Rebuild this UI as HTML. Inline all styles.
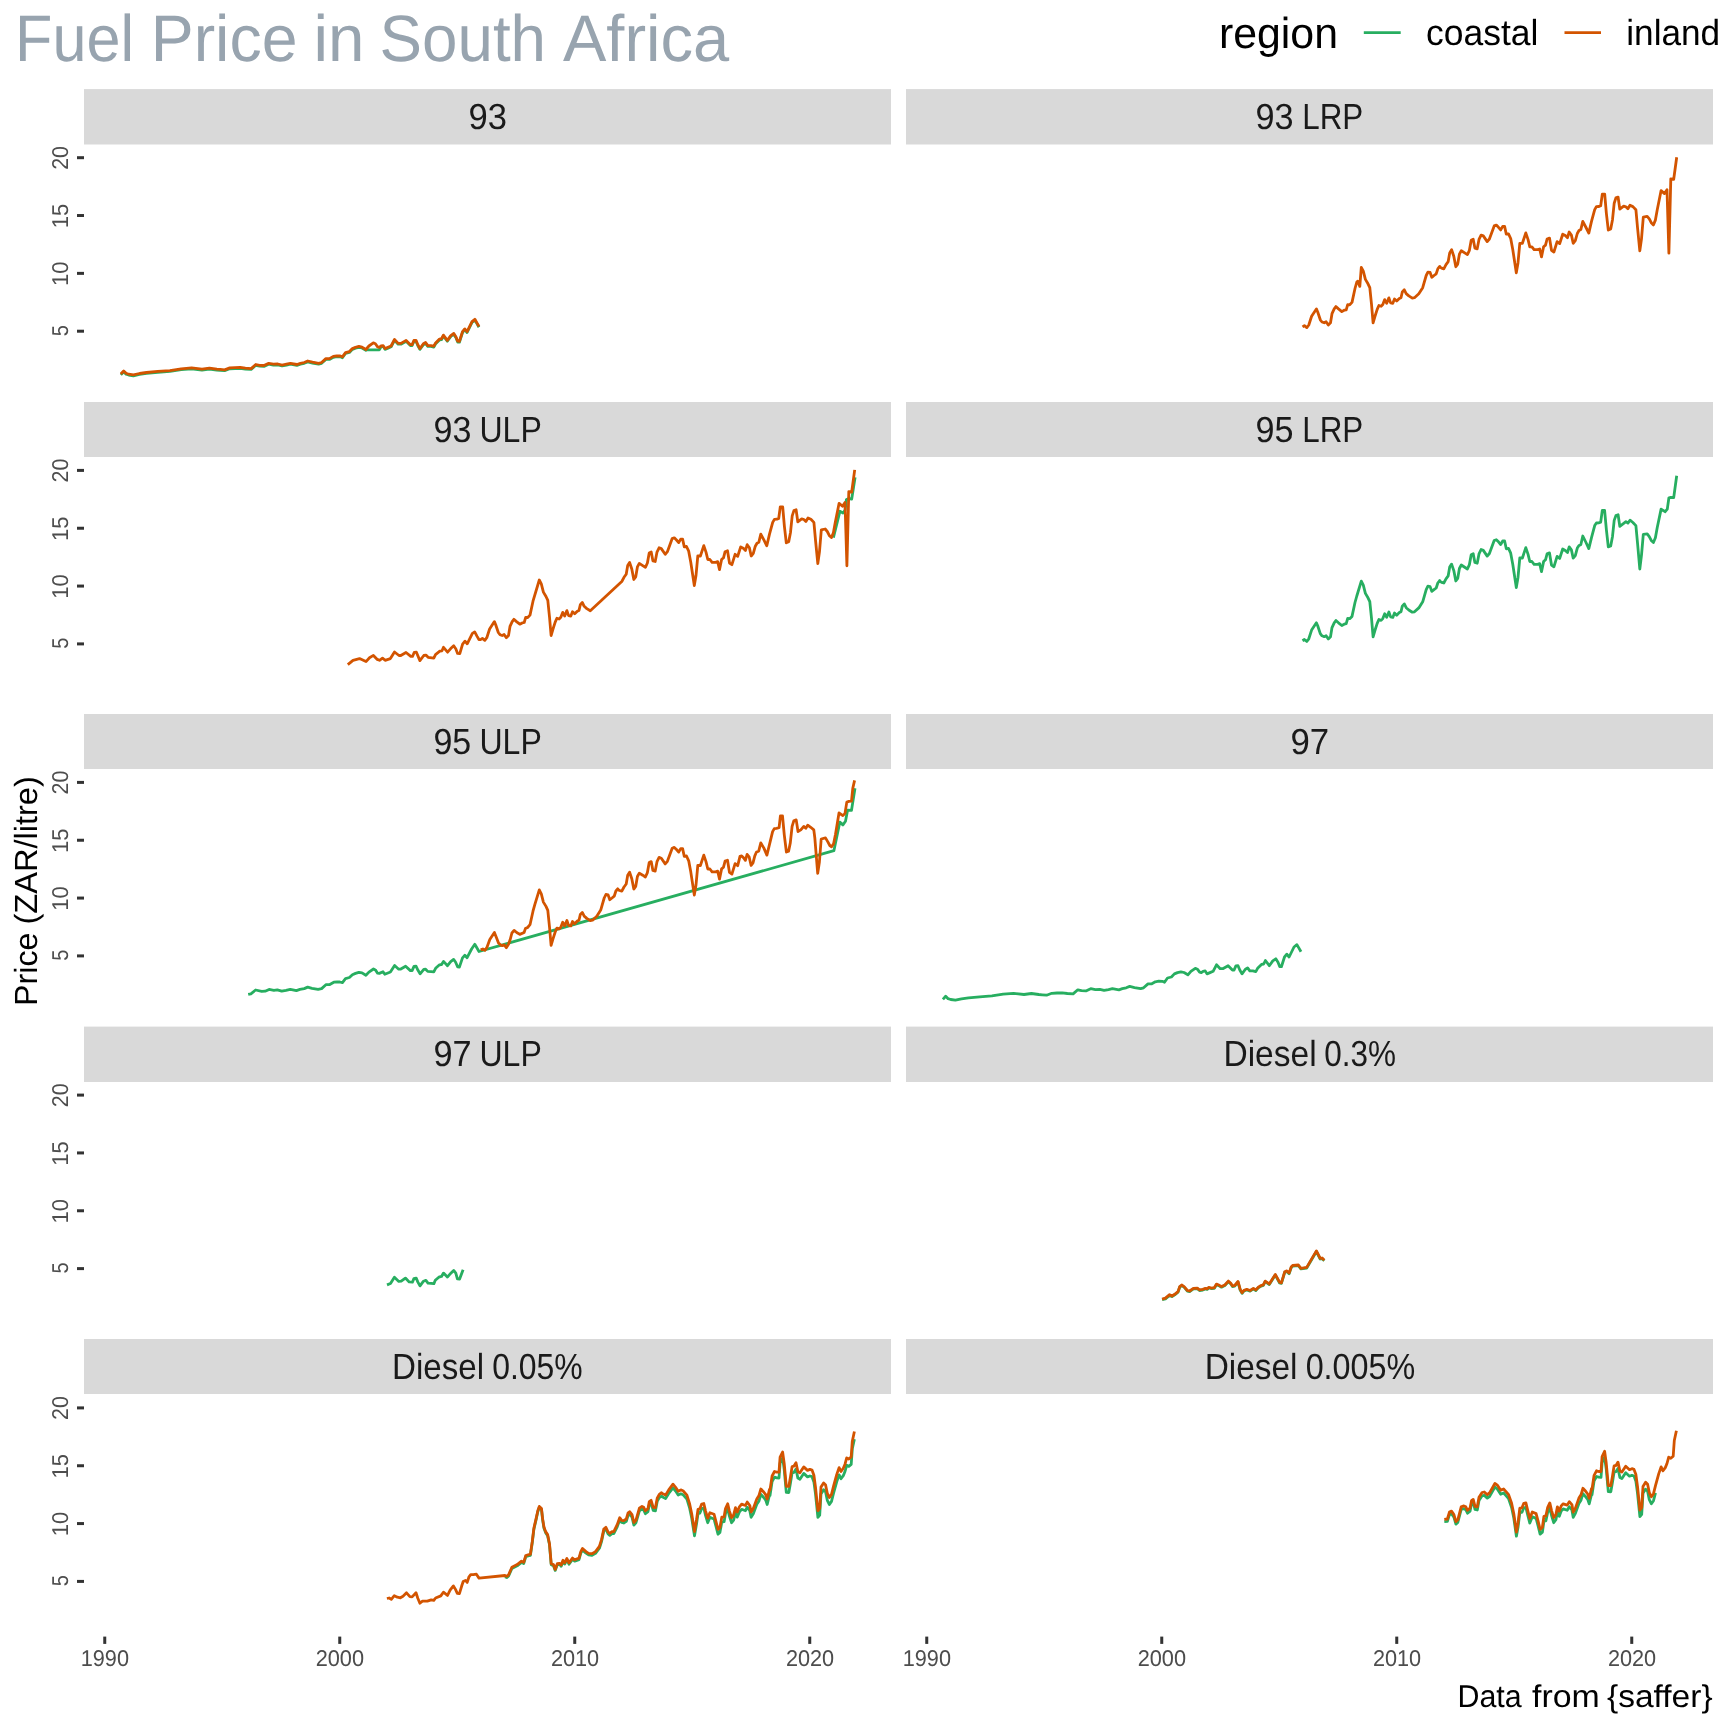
<!DOCTYPE html>
<html><head><meta charset="utf-8"><title>Fuel Price in South Africa</title>
<style>html,body{margin:0;padding:0;background:#fff}svg{display:block;will-change:transform}text{-webkit-font-smoothing:antialiased}</style></head>
<body>
<svg width="1728" height="1728" viewBox="0 0 1728 1728" font-family='"Liberation Sans", Arial, sans-serif' text-rendering="geometricPrecision">
<rect width="1728" height="1728" fill="#fff"/>
<g id="title" fill="#98A4AF" font-size="65.7">
<text x="15.09" y="60.70" textLength="118.90" lengthAdjust="spacingAndGlyphs">Fuel</text>
<text x="150.72" y="60.70" textLength="146.75" lengthAdjust="spacingAndGlyphs">Price</text>
<text x="313.42" y="60.70" textLength="50.93" lengthAdjust="spacingAndGlyphs">in</text>
<text x="379.51" y="60.70" textLength="166.53" lengthAdjust="spacingAndGlyphs">South</text>
<text x="562.97" y="60.70" textLength="166.33" lengthAdjust="spacingAndGlyphs">Africa</text>
</g>
<g id="legend" fill="#000">
<text x="1218.91" y="47.75" textLength="119.08" lengthAdjust="spacingAndGlyphs" font-size="43.4">region</text>
<line x1="1363.8" x2="1400.7" y1="32.65" y2="32.65" stroke="#27AE60" stroke-width="2.75"/>
<text x="1425.94" y="44.70" textLength="112.43" lengthAdjust="spacingAndGlyphs" font-size="36.2">coastal</text>
<line x1="1564.5" x2="1601" y1="32.65" y2="32.65" stroke="#D35400" stroke-width="2.75"/>
<text x="1626.25" y="44.70" textLength="93.92" lengthAdjust="spacingAndGlyphs" font-size="36.2">inland</text>
</g>
<g id="strips">
<rect x="84.0" y="89.10" width="807.0" height="55.40" fill="#D9D9D9"/>
<rect x="906.0" y="89.10" width="807.0" height="55.40" fill="#D9D9D9"/>
<rect x="84.0" y="402.00" width="807.0" height="55.00" fill="#D9D9D9"/>
<rect x="906.0" y="402.00" width="807.0" height="55.00" fill="#D9D9D9"/>
<rect x="84.0" y="714.00" width="807.0" height="55.00" fill="#D9D9D9"/>
<rect x="906.0" y="714.00" width="807.0" height="55.00" fill="#D9D9D9"/>
<rect x="84.0" y="1026.60" width="807.0" height="55.40" fill="#D9D9D9"/>
<rect x="906.0" y="1026.60" width="807.0" height="55.40" fill="#D9D9D9"/>
<rect x="84.0" y="1339.00" width="807.0" height="55.00" fill="#D9D9D9"/>
<rect x="906.0" y="1339.00" width="807.0" height="55.00" fill="#D9D9D9"/>
</g>
<g id="striptext" fill="#1A1A1A" font-size="36.2">
<text x="468.43" y="128.70" textLength="38.44" lengthAdjust="spacingAndGlyphs">93</text>
<text x="1255.49" y="128.70" textLength="38.11" lengthAdjust="spacingAndGlyphs">93</text>
<text x="1302.23" y="128.70" textLength="61.03" lengthAdjust="spacingAndGlyphs">LRP</text>
<text x="433.45" y="441.60" textLength="37.89" lengthAdjust="spacingAndGlyphs">93</text>
<text x="479.48" y="441.60" textLength="62.36" lengthAdjust="spacingAndGlyphs">ULP</text>
<text x="1255.50" y="441.60" textLength="38.04" lengthAdjust="spacingAndGlyphs">95</text>
<text x="1302.23" y="441.60" textLength="61.03" lengthAdjust="spacingAndGlyphs">LRP</text>
<text x="433.46" y="753.60" textLength="37.82" lengthAdjust="spacingAndGlyphs">95</text>
<text x="479.48" y="753.60" textLength="62.36" lengthAdjust="spacingAndGlyphs">ULP</text>
<text x="1290.42" y="753.60" textLength="38.68" lengthAdjust="spacingAndGlyphs">97</text>
<text x="433.44" y="1066.20" textLength="38.13" lengthAdjust="spacingAndGlyphs">97</text>
<text x="479.48" y="1066.20" textLength="62.36" lengthAdjust="spacingAndGlyphs">ULP</text>
<text x="1223.45" y="1066.20" textLength="93.19" lengthAdjust="spacingAndGlyphs">Diesel</text>
<text x="1324.27" y="1066.20" textLength="71.75" lengthAdjust="spacingAndGlyphs">0.3%</text>
<text x="391.98" y="1378.60" textLength="92.03" lengthAdjust="spacingAndGlyphs">Diesel</text>
<text x="492.25" y="1378.60" textLength="90.48" lengthAdjust="spacingAndGlyphs">0.05%</text>
<text x="1204.66" y="1378.60" textLength="92.88" lengthAdjust="spacingAndGlyphs">Diesel</text>
<text x="1305.64" y="1378.60" textLength="109.51" lengthAdjust="spacingAndGlyphs">0.005%</text>
</g>
<g id="yticks" stroke="#333" stroke-width="3">
<line x1="77" x2="84.0" y1="331.20" y2="331.20"/>
<line x1="77" x2="84.0" y1="273.37" y2="273.37"/>
<line x1="77" x2="84.0" y1="215.53" y2="215.53"/>
<line x1="77" x2="84.0" y1="157.70" y2="157.70"/>
<line x1="77" x2="84.0" y1="643.90" y2="643.90"/>
<line x1="77" x2="84.0" y1="586.07" y2="586.07"/>
<line x1="77" x2="84.0" y1="528.24" y2="528.24"/>
<line x1="77" x2="84.0" y1="470.40" y2="470.40"/>
<line x1="77" x2="84.0" y1="955.90" y2="955.90"/>
<line x1="77" x2="84.0" y1="898.07" y2="898.07"/>
<line x1="77" x2="84.0" y1="840.24" y2="840.24"/>
<line x1="77" x2="84.0" y1="782.40" y2="782.40"/>
<line x1="77" x2="84.0" y1="1268.61" y2="1268.61"/>
<line x1="77" x2="84.0" y1="1210.77" y2="1210.77"/>
<line x1="77" x2="84.0" y1="1152.93" y2="1152.93"/>
<line x1="77" x2="84.0" y1="1095.10" y2="1095.10"/>
<line x1="77" x2="84.0" y1="1581.41" y2="1581.41"/>
<line x1="77" x2="84.0" y1="1523.57" y2="1523.57"/>
<line x1="77" x2="84.0" y1="1465.74" y2="1465.74"/>
<line x1="77" x2="84.0" y1="1407.90" y2="1407.90"/>
</g>
<g id="ylabels" fill="#4D4D4D" font-size="22.9">
<text transform="translate(68.0,330.60) rotate(-90)" x="-5.55" textLength="11.14" lengthAdjust="spacingAndGlyphs">5</text>
<text transform="translate(68.0,273.47) rotate(-90)" x="-12.62" textLength="24.43" lengthAdjust="spacingAndGlyphs">10</text>
<text transform="translate(68.0,215.63) rotate(-90)" x="-12.63" textLength="24.50" lengthAdjust="spacingAndGlyphs">15</text>
<text transform="translate(68.0,157.80) rotate(-90)" x="-12.03" textLength="23.81" lengthAdjust="spacingAndGlyphs">20</text>
<text transform="translate(68.0,643.30) rotate(-90)" x="-5.55" textLength="11.14" lengthAdjust="spacingAndGlyphs">5</text>
<text transform="translate(68.0,586.17) rotate(-90)" x="-12.62" textLength="24.43" lengthAdjust="spacingAndGlyphs">10</text>
<text transform="translate(68.0,528.34) rotate(-90)" x="-12.63" textLength="24.50" lengthAdjust="spacingAndGlyphs">15</text>
<text transform="translate(68.0,470.50) rotate(-90)" x="-12.03" textLength="23.81" lengthAdjust="spacingAndGlyphs">20</text>
<text transform="translate(68.0,955.30) rotate(-90)" x="-5.55" textLength="11.14" lengthAdjust="spacingAndGlyphs">5</text>
<text transform="translate(68.0,898.17) rotate(-90)" x="-12.62" textLength="24.43" lengthAdjust="spacingAndGlyphs">10</text>
<text transform="translate(68.0,840.34) rotate(-90)" x="-12.63" textLength="24.50" lengthAdjust="spacingAndGlyphs">15</text>
<text transform="translate(68.0,782.50) rotate(-90)" x="-12.03" textLength="23.81" lengthAdjust="spacingAndGlyphs">20</text>
<text transform="translate(68.0,1268.01) rotate(-90)" x="-5.55" textLength="11.14" lengthAdjust="spacingAndGlyphs">5</text>
<text transform="translate(68.0,1210.87) rotate(-90)" x="-12.62" textLength="24.43" lengthAdjust="spacingAndGlyphs">10</text>
<text transform="translate(68.0,1153.03) rotate(-90)" x="-12.63" textLength="24.50" lengthAdjust="spacingAndGlyphs">15</text>
<text transform="translate(68.0,1095.20) rotate(-90)" x="-12.03" textLength="23.81" lengthAdjust="spacingAndGlyphs">20</text>
<text transform="translate(68.0,1580.81) rotate(-90)" x="-5.55" textLength="11.14" lengthAdjust="spacingAndGlyphs">5</text>
<text transform="translate(68.0,1523.67) rotate(-90)" x="-12.62" textLength="24.43" lengthAdjust="spacingAndGlyphs">10</text>
<text transform="translate(68.0,1465.84) rotate(-90)" x="-12.63" textLength="24.50" lengthAdjust="spacingAndGlyphs">15</text>
<text transform="translate(68.0,1408.00) rotate(-90)" x="-12.03" textLength="23.81" lengthAdjust="spacingAndGlyphs">20</text>
</g>
<g id="xticks" stroke="#333" stroke-width="3">
<line x1="104.75" x2="104.75" y1="1636.6" y2="1643.9"/>
<line x1="339.75" x2="339.75" y1="1636.6" y2="1643.9"/>
<line x1="574.75" x2="574.75" y1="1636.6" y2="1643.9"/>
<line x1="809.75" x2="809.75" y1="1636.6" y2="1643.9"/>
<line x1="926.75" x2="926.75" y1="1636.6" y2="1643.9"/>
<line x1="1161.75" x2="1161.75" y1="1636.6" y2="1643.9"/>
<line x1="1396.75" x2="1396.75" y1="1636.6" y2="1643.9"/>
<line x1="1631.75" x2="1631.75" y1="1636.6" y2="1643.9"/>
</g>
<g id="xlabels" fill="#4D4D4D" font-size="22.9">
<text x="80.70" y="1665.90" textLength="48.30" lengthAdjust="spacingAndGlyphs">1990</text>
<text x="315.71" y="1665.90" textLength="48.34" lengthAdjust="spacingAndGlyphs">2000</text>
<text x="550.91" y="1665.90" textLength="48.19" lengthAdjust="spacingAndGlyphs">2010</text>
<text x="785.91" y="1665.90" textLength="48.19" lengthAdjust="spacingAndGlyphs">2020</text>
<text x="902.70" y="1665.90" textLength="48.30" lengthAdjust="spacingAndGlyphs">1990</text>
<text x="1137.71" y="1665.90" textLength="48.34" lengthAdjust="spacingAndGlyphs">2000</text>
<text x="1372.91" y="1665.90" textLength="48.19" lengthAdjust="spacingAndGlyphs">2010</text>
<text x="1607.91" y="1665.90" textLength="48.19" lengthAdjust="spacingAndGlyphs">2020</text>
</g>
<g transform="translate(36.94,0) rotate(-90)" font-size="32" fill="#000">
<text x="-1005.95" y="0.00" textLength="73.48" lengthAdjust="spacingAndGlyphs">Price</text>
<text x="-924.62" y="0.00" textLength="148.44" lengthAdjust="spacingAndGlyphs">(ZAR/litre)</text>
</g>
<g font-size="31.5" fill="#000">
<text x="1457.51" y="1706.70" textLength="64.19" lengthAdjust="spacingAndGlyphs">Data</text>
<text x="1532.02" y="1706.70" textLength="67.71" lengthAdjust="spacingAndGlyphs">from</text>
<text x="1606.94" y="1706.70" textLength="105.66" lengthAdjust="spacingAndGlyphs">{saffer}</text>
</g>
<g id="lines">
<path d="M120.8 374.9 L123.7 371.8 L126.1 374.2 L128.7 375.0 L133.4 375.8 L139.5 374.4 L146.5 373.3 L157.7 372.3 L169.9 371.4 L181.2 369.7 L191.6 368.8 L202.0 370.0 L209.4 369.0 L216.8 370.0 L220.2 370.3 L224.6 370.7 L229.8 368.8 L235.0 368.5 L240.2 368.4 L245.4 369.0 L251.1 369.4 L255.8 365.3 L259.6 366.2 L263.9 366.4 L268.7 364.2 L273.4 365.1 L277.8 364.8 L282.1 365.9 L286.5 365.1 L290.4 364.2 L296.9 365.3 L300.4 364.2 L304.2 363.3 L307.7 361.9 L312.5 363.1 L318.6 364.2 L321.6 363.3 L325.9 359.4 L329.4 359.4 L333.3 357.3 L336.8 356.6 L340.3 356.8 L342.4 357.7 L345.5 353.5 L349.4 352.5 L352.4 349.4 L355.5 348.1 L358.9 347.3 L362.0 348.0 L365.9 350.3 L366.8 349.8 L379.3 349.8 L381.1 346.8 L383.2 346.4 L385.0 349.4 L388.0 348.1 L391.1 346.8 L394.5 340.3 L398.2 344.2 L400.9 344.2 L406.1 341.2 L410.4 345.5 L412.1 345.5 L413.9 341.4 L416.0 341.2 L417.8 345.5 L419.9 349.4 L423.4 344.7 L425.6 343.4 L427.8 346.4 L430.8 346.4 L433.8 347.1 L435.6 343.8 L439.5 339.9 L441.6 339.5 L443.4 336.0 L447.3 341.2 L450.8 336.4 L453.8 334.2 L456.0 337.7 L457.7 342.1 L459.4 342.2 L462.5 332.5 L464.8 329.7 L467.1 332.5 L472.0 322.5 L474.9 320.2 L476.8 323.4 L479.0 327.3" fill="none" stroke="#27AE60" stroke-width="2.8" stroke-linejoin="round" stroke-linecap="butt"/>
<path d="M120.8 374.0 L123.7 370.9 L126.1 373.3 L128.7 374.2 L133.4 374.9 L139.5 373.5 L146.5 372.5 L157.7 371.4 L169.9 370.6 L181.2 368.8 L191.6 367.9 L202.0 369.2 L209.4 368.1 L216.8 369.2 L220.2 369.4 L224.6 369.9 L229.8 367.9 L235.0 367.7 L240.2 367.5 L245.4 368.1 L251.1 368.6 L255.8 364.5 L259.6 365.4 L263.9 365.5 L268.7 363.4 L273.4 364.2 L277.8 364.0 L282.1 365.1 L286.5 364.2 L290.4 363.4 L296.9 364.5 L300.4 363.4 L304.2 362.5 L307.7 361.0 L312.5 362.2 L318.6 363.4 L321.6 362.5 L325.9 358.6 L329.4 358.6 L333.3 356.4 L336.8 355.8 L340.3 356.0 L342.4 356.8 L345.5 352.7 L349.4 351.6 L352.4 348.6 L355.5 347.3 L358.9 346.4 L362.0 347.1 L365.9 349.5 L368.9 346.0 L373.3 342.9 L375.4 343.8 L377.6 346.9 L379.3 347.3 L381.1 346.0 L383.2 345.6 L385.0 348.6 L388.0 347.3 L391.1 346.0 L394.5 339.5 L398.2 343.4 L400.9 343.4 L406.1 340.4 L410.4 344.7 L412.1 344.7 L413.9 340.5 L416.0 340.4 L417.8 344.7 L419.9 348.6 L423.4 343.8 L425.6 342.5 L427.8 345.6 L430.8 345.6 L433.8 346.2 L435.6 342.9 L439.5 339.1 L441.6 338.6 L443.4 335.1 L447.3 340.4 L450.8 335.6 L453.8 333.4 L456.0 336.9 L457.7 341.2 L459.4 341.4 L462.5 331.7 L464.8 328.9 L467.1 331.7 L472.0 321.7 L474.9 319.3 L476.8 322.6 L479.0 326.5" fill="none" stroke="#D35400" stroke-width="2.8" stroke-linejoin="round" stroke-linecap="butt"/>
<path d="M1302.5 326.9 L1304.4 325.7 L1306.8 327.6 L1308.8 325.0 L1311.6 316.3 L1316.4 308.9 L1317.7 312.0 L1320.3 319.8 L1322.0 322.0 L1324.2 322.8 L1326.1 321.8 L1328.3 325.0 L1330.5 322.8 L1332.0 313.7 L1334.2 308.9 L1335.9 306.6 L1338.5 308.9 L1341.8 311.6 L1344.2 310.2 L1346.2 309.8 L1347.7 304.6 L1349.7 304.8 L1352.0 302.4 L1355.0 288.5 L1356.8 282.0 L1357.8 281.2 L1359.8 286.4 L1361.3 267.3 L1363.3 271.2 L1365.4 279.4 L1368.0 283.8 L1369.8 287.7 L1371.5 304.2 L1373.1 322.8 L1375.0 316.3 L1377.2 309.4 L1378.9 305.5 L1381.1 306.3 L1382.8 304.6 L1384.7 299.6 L1386.7 303.3 L1388.9 297.9 L1390.6 302.9 L1392.8 303.3 L1394.5 299.0 L1396.7 301.1 L1399.3 298.5 L1401.0 297.7 L1402.3 292.0 L1404.3 289.8 L1406.2 293.6 L1408.8 295.9 L1412.3 298.1 L1414.5 297.7 L1418.8 293.8 L1422.7 287.7 L1426.2 275.5 L1427.9 272.1 L1430.1 272.5 L1431.8 277.3 L1434.0 275.5 L1436.2 273.8 L1437.9 268.6 L1439.7 266.4 L1439.5 266.8 L1441.6 268.1 L1443.8 268.8 L1446.0 264.6 L1448.2 261.6 L1449.7 252.9 L1451.6 249.8 L1453.8 256.3 L1455.8 266.8 L1457.7 264.1 L1459.4 254.2 L1461.3 250.7 L1464.7 252.9 L1467.4 254.6 L1469.4 250.3 L1471.2 240.3 L1473.2 239.2 L1474.9 248.1 L1477.2 248.8 L1479.0 239.4 L1481.1 235.1 L1483.3 235.9 L1487.2 241.6 L1489.4 239.0 L1494.2 225.9 L1496.3 225.1 L1498.5 227.3 L1500.7 229.9 L1502.7 226.4 L1504.6 226.4 L1506.3 234.2 L1508.5 233.8 L1510.7 238.5 L1512.8 249.8 L1516.3 272.8 L1518.0 262.9 L1519.8 243.3 L1522.4 243.3 L1525.8 232.9 L1528.0 239.4 L1529.8 246.8 L1531.9 246.8 L1534.1 249.7 L1537.6 249.7 L1539.7 249.0 L1541.5 256.9 L1543.6 246.8 L1545.5 245.1 L1547.1 239.0 L1549.5 238.1 L1551.5 250.3 L1553.9 252.0 L1557.1 241.6 L1559.7 243.6 L1562.7 234.2 L1565.3 235.5 L1567.5 237.7 L1569.2 232.0 L1571.4 235.1 L1573.2 243.3 L1575.3 240.7 L1577.3 233.5 L1579.0 230.5 L1580.8 229.6 L1582.8 221.4 L1586.0 227.5 L1588.8 233.1 L1591.5 221.4 L1594.7 209.7 L1596.4 206.6 L1599.0 206.5 L1600.7 205.8 L1602.3 194.1 L1604.7 194.1 L1606.4 213.6 L1608.3 230.1 L1610.7 229.0 L1612.5 219.7 L1614.2 203.2 L1615.9 197.9 L1618.1 197.1 L1619.8 209.1 L1623.7 206.2 L1625.9 206.8 L1627.9 208.8 L1630.0 205.3 L1632.9 206.6 L1635.9 209.7 L1637.6 228.3 L1639.8 250.9 L1641.5 238.8 L1643.3 217.1 L1647.2 216.3 L1649.3 218.8 L1651.5 223.1 L1653.4 224.9 L1655.4 220.1 L1657.2 210.1 L1661.1 190.6 L1664.5 193.6 L1667.0 189.7 L1668.9 253.1 L1670.8 178.8 L1673.7 179.3 L1676.7 157.2" fill="none" stroke="#D35400" stroke-width="2.8" stroke-linejoin="round" stroke-linecap="butt"/>
<path d="M833.4 537.7 L839.9 511.3 L843.0 513.0 L845.1 510.0 L846.4 499.5 L848.8 498.7 L851.7 499.1 L855.1 477.4" fill="none" stroke="#27AE60" stroke-width="2.8" stroke-linejoin="round" stroke-linecap="butt"/>
<path d="M347.8 664.6 L353.0 660.3 L359.5 658.6 L366.0 661.6 L369.5 657.7 L373.4 655.4 L377.3 659.4 L379.5 660.3 L382.5 658.1 L385.1 660.3 L390.4 658.6 L394.5 652.0 L399.0 655.5 L400.8 655.5 L406.0 652.5 L410.8 656.4 L412.5 656.4 L414.2 652.5 L416.4 652.2 L419.9 660.6 L423.8 655.5 L425.9 655.1 L428.1 657.3 L433.8 658.1 L435.5 654.6 L439.8 651.2 L442.0 650.8 L443.5 647.3 L447.6 652.2 L450.7 648.6 L453.7 645.8 L455.9 649.0 L457.6 653.4 L459.8 653.6 L462.6 644.2 L465.0 641.2 L467.2 643.8 L472.4 633.4 L474.7 631.9 L477.1 636.4 L478.9 639.5 L480.5 639.6 L482.4 638.4 L484.8 640.3 L486.8 637.7 L489.6 629.0 L494.4 621.6 L495.7 624.7 L498.3 632.5 L500.0 634.7 L502.2 635.5 L504.1 634.5 L506.3 637.7 L508.5 635.5 L510.0 626.4 L512.2 621.6 L513.9 619.3 L516.5 621.6 L519.8 624.2 L522.2 622.9 L524.2 622.5 L525.7 617.3 L527.7 617.5 L530.0 615.1 L533.0 601.2 L539.3 580.0 L541.3 583.9 L543.4 592.1 L546.0 596.5 L547.8 600.4 L549.5 616.9 L551.1 635.5 L553.0 629.0 L555.2 622.1 L556.9 618.2 L559.1 619.0 L560.8 617.3 L562.7 612.4 L564.7 616.0 L566.9 610.6 L568.6 615.6 L570.8 616.0 L572.5 611.7 L574.7 613.8 L577.3 611.2 L579.0 610.4 L580.3 604.7 L582.3 602.5 L584.2 606.3 L586.8 608.6 L590.3 610.8 L621.8 581.5 L624.0 577.3 L626.2 574.2 L627.7 565.6 L629.6 562.5 L631.8 569.0 L633.8 579.5 L635.7 576.9 L637.4 566.9 L639.3 563.4 L642.7 565.6 L645.4 567.3 L647.4 563.0 L649.2 553.0 L651.2 551.9 L652.9 560.8 L655.2 561.5 L657.0 552.1 L659.1 547.8 L661.3 548.6 L665.2 554.3 L667.4 551.7 L672.2 538.6 L674.3 537.8 L676.5 540.0 L678.7 542.6 L680.7 539.1 L682.6 539.1 L684.3 546.9 L686.5 546.5 L688.7 551.2 L690.8 562.5 L694.3 585.5 L696.0 575.6 L697.8 556.0 L700.4 556.0 L703.8 545.6 L706.0 552.1 L707.8 559.5 L709.9 559.5 L712.1 562.4 L715.6 562.4 L717.7 561.7 L719.5 569.6 L721.6 559.5 L723.5 557.8 L725.1 551.7 L727.5 550.8 L729.5 563.0 L731.9 564.7 L735.1 554.3 L737.7 556.3 L740.7 546.9 L743.3 548.2 L745.5 550.4 L747.2 544.7 L749.4 547.8 L751.2 556.0 L753.3 553.4 L755.3 546.2 L757.0 543.2 L758.8 542.3 L760.8 534.1 L764.0 540.2 L766.8 545.8 L769.5 534.1 L772.7 522.4 L774.4 519.3 L777.0 519.2 L778.7 518.5 L780.3 506.8 L782.7 506.8 L784.4 526.3 L786.3 542.8 L788.7 541.7 L790.5 532.4 L792.2 515.9 L793.9 510.6 L796.1 509.8 L797.8 521.8 L801.7 518.9 L803.9 519.5 L805.9 521.5 L808.0 518.0 L810.9 519.3 L813.9 522.4 L815.6 541.0 L817.8 563.6 L819.5 551.5 L821.3 529.8 L825.2 529.0 L827.3 531.5 L829.5 535.8 L831.4 537.6 L833.4 532.8 L835.2 522.8 L839.1 503.3 L842.5 506.3 L845.0 502.4 L846.9 565.8 L848.8 491.6 L851.7 492.0 L854.7 469.9" fill="none" stroke="#D35400" stroke-width="2.8" stroke-linejoin="round" stroke-linecap="butt"/>
<path d="M1302.5 640.7 L1304.4 639.5 L1306.8 641.4 L1308.8 638.8 L1311.6 630.1 L1316.4 622.8 L1317.7 625.8 L1320.3 633.6 L1322.0 635.8 L1324.2 636.7 L1326.1 635.7 L1328.3 638.9 L1330.5 636.7 L1332.0 627.6 L1334.2 622.8 L1335.9 620.5 L1338.5 622.8 L1341.8 625.5 L1344.2 624.2 L1346.2 623.7 L1347.7 618.5 L1349.7 618.7 L1352.0 616.4 L1355.0 602.5 L1356.8 596.0 L1361.3 581.2 L1363.3 585.2 L1365.4 593.4 L1368.0 597.8 L1369.8 601.7 L1371.5 618.2 L1373.1 636.8 L1375.0 630.3 L1377.2 623.4 L1378.9 619.5 L1381.1 620.4 L1382.8 618.6 L1384.7 613.7 L1386.7 617.3 L1388.9 612.0 L1390.6 616.9 L1392.8 617.4 L1394.5 613.0 L1396.7 615.2 L1399.3 612.6 L1401.0 611.7 L1402.3 606.1 L1404.3 603.9 L1406.2 607.7 L1408.8 610.0 L1412.3 612.2 L1414.5 611.8 L1418.8 607.9 L1422.7 601.8 L1426.2 589.7 L1427.9 586.2 L1430.1 586.6 L1431.8 591.4 L1434.0 589.7 L1436.2 588.0 L1437.9 582.8 L1439.7 580.6 L1439.5 580.9 L1441.6 582.3 L1443.8 583.0 L1446.0 578.8 L1448.2 575.8 L1449.7 567.1 L1451.6 564.1 L1453.8 570.6 L1455.8 581.0 L1457.7 578.5 L1459.4 568.5 L1461.3 565.0 L1464.7 567.2 L1467.4 569.0 L1469.4 564.6 L1471.2 554.7 L1473.2 553.7 L1474.9 562.5 L1477.2 563.2 L1479.0 553.9 L1481.1 549.5 L1483.3 550.4 L1487.2 556.1 L1489.4 553.5 L1494.2 540.5 L1496.3 539.7 L1498.5 541.8 L1500.7 544.5 L1502.7 541.0 L1504.6 541.0 L1506.3 548.8 L1508.5 548.4 L1510.7 553.2 L1512.8 564.5 L1516.3 587.5 L1518.0 577.5 L1519.8 558.0 L1522.4 558.0 L1525.8 547.6 L1528.0 554.1 L1529.8 561.5 L1531.9 561.5 L1534.1 564.4 L1537.6 564.4 L1539.7 563.7 L1541.5 571.7 L1543.6 561.6 L1545.5 559.8 L1547.1 553.8 L1549.5 552.9 L1551.5 565.1 L1553.9 566.8 L1557.1 556.4 L1559.7 558.4 L1562.7 549.0 L1565.3 550.4 L1567.5 552.5 L1569.2 546.9 L1571.4 549.9 L1573.2 558.2 L1575.3 555.6 L1577.3 548.1 L1579.0 545.5 L1580.8 544.8 L1582.8 536.0 L1586.0 542.5 L1588.8 548.6 L1591.5 537.7 L1594.7 525.6 L1596.4 523.0 L1599.0 522.8 L1600.7 522.1 L1602.3 510.4 L1604.6 510.4 L1606.4 529.9 L1608.3 546.8 L1610.7 546.0 L1612.5 536.4 L1614.2 520.4 L1615.9 515.6 L1618.1 514.7 L1619.8 526.4 L1623.7 523.4 L1625.9 521.7 L1627.9 523.1 L1630.0 520.2 L1632.9 522.5 L1635.9 525.6 L1637.6 543.8 L1639.8 569.0 L1641.5 555.1 L1643.3 534.3 L1647.2 533.8 L1649.4 536.9 L1651.5 540.8 L1653.4 542.5 L1655.4 537.7 L1657.2 527.7 L1661.1 509.1 L1665.0 511.7 L1667.3 509.1 L1668.9 497.8 L1670.8 497.4 L1673.7 497.6 L1676.7 475.7" fill="none" stroke="#27AE60" stroke-width="2.8" stroke-linejoin="round" stroke-linecap="butt"/>
<path d="M248.2 994.4 L250.9 993.8 L255.6 990.0 L261.7 991.4 L265.2 991.2 L269.1 989.4 L273.9 990.3 L277.3 989.9 L281.7 991.2 L286.0 990.3 L290.3 989.3 L296.4 990.6 L299.9 989.4 L304.2 988.6 L307.7 987.1 L312.0 988.3 L318.1 989.4 L321.6 988.6 L325.9 984.7 L329.8 984.5 L333.8 982.2 L337.2 981.9 L339.8 982.0 L342.4 982.7 L345.5 978.6 L349.4 977.5 L352.4 974.7 L355.5 973.4 L358.9 972.3 L362.0 972.9 L365.9 975.3 L368.9 972.1 L373.5 969.0 L375.4 969.9 L377.6 973.2 L379.3 973.4 L383.0 971.8 L384.8 974.2 L390.4 972.0 L394.6 965.5 L398.7 969.2 L400.4 969.2 L405.6 966.2 L410.4 970.6 L412.1 970.6 L414.0 966.4 L416.0 966.2 L418.0 970.3 L420.1 973.8 L423.8 969.4 L425.6 969.2 L427.7 971.4 L431.2 971.6 L433.8 971.8 L435.6 968.3 L439.5 964.8 L441.6 964.5 L443.5 961.4 L447.5 965.7 L450.7 961.6 L453.6 959.4 L455.5 962.0 L457.7 966.8 L459.4 967.1 L462.5 957.9 L464.9 955.3 L467.1 957.7 L471.6 949.0 L474.8 944.3 L479.0 951.5 L833.9 850.7 L839.8 822.1 L842.9 824.9 L845.5 821.2 L847.6 810.1 L851.5 810.4 L852.8 802.1 L855.0 788.2" fill="none" stroke="#27AE60" stroke-width="2.8" stroke-linejoin="round" stroke-linecap="butt"/>
<path d="M480.7 949.9 L482.9 949.0 L484.9 950.3 L486.8 947.7 L489.8 939.5 L494.4 932.5 L496.3 937.3 L498.5 943.0 L500.7 945.1 L502.4 945.6 L504.3 944.9 L506.3 947.7 L508.5 944.3 L510.2 939.5 L511.9 933.0 L514.1 930.4 L516.7 932.5 L519.8 934.4 L524.1 932.5 L525.4 928.6 L527.6 927.5 L530.0 924.7 L533.0 911.2 L534.8 904.7 L539.3 889.9 L541.3 893.8 L543.4 902.1 L546.0 906.4 L547.8 910.3 L549.5 926.8 L551.1 945.4 L553.0 938.9 L555.2 932.0 L556.9 928.1 L559.1 928.9 L560.8 927.2 L562.7 922.2 L564.7 925.9 L566.9 920.5 L568.6 925.4 L570.8 925.9 L572.5 921.5 L574.7 923.7 L577.3 921.1 L579.0 920.2 L580.3 914.5 L582.3 912.4 L584.2 916.1 L586.8 918.4 L590.3 920.6 L592.5 920.2 L596.8 916.2 L600.7 910.1 L604.2 898.0 L605.9 894.5 L608.1 894.9 L609.8 899.7 L612.0 898.0 L614.2 896.2 L615.9 891.0 L617.7 888.8 L617.5 889.2 L619.6 890.5 L621.8 891.2 L624.0 887.0 L626.2 884.0 L627.7 875.3 L629.6 872.2 L631.8 878.7 L633.8 889.1 L635.7 886.5 L637.4 876.5 L639.3 873.1 L642.7 875.2 L645.4 877.0 L647.4 872.6 L649.2 862.6 L651.2 861.6 L652.9 870.4 L655.2 871.1 L657.0 861.7 L659.1 857.4 L661.3 858.2 L665.2 863.9 L667.4 861.3 L672.2 848.2 L674.3 847.4 L676.5 849.5 L678.7 852.1 L680.7 848.6 L682.6 848.6 L684.3 856.4 L686.5 856.0 L688.7 860.8 L690.8 872.1 L694.3 895.1 L696.0 885.1 L697.8 865.5 L700.4 865.5 L703.8 855.1 L706.0 861.6 L707.8 869.0 L709.9 869.0 L712.1 871.8 L715.6 871.8 L717.7 871.1 L719.5 879.1 L721.6 868.9 L723.5 867.2 L725.1 861.1 L727.5 860.2 L729.5 872.4 L731.9 874.1 L735.1 863.7 L737.7 865.7 L740.0 856.4 L741.7 855.9 L743.5 857.7 L745.4 860.3 L747.1 854.4 L749.1 856.8 L751.1 865.5 L753.0 862.9 L754.8 855.9 L756.5 852.0 L758.7 851.2 L760.8 842.9 L763.9 848.1 L766.9 855.1 L768.6 848.1 L772.6 831.6 L774.3 828.6 L776.5 828.3 L779.1 827.7 L780.4 816.0 L782.5 816.0 L784.3 835.1 L786.4 852.0 L788.6 851.2 L790.3 842.9 L792.1 826.4 L793.8 820.8 L796.2 819.9 L798.0 831.5 L800.8 829.9 L803.8 826.4 L805.8 828.3 L807.7 825.1 L810.7 827.3 L813.8 829.9 L814.8 837.7 L817.7 873.3 L819.4 862.0 L821.2 839.0 L825.5 837.9 L827.7 841.6 L829.8 845.5 L831.6 846.8 L833.6 843.8 L835.5 834.2 L839.0 813.0 L842.9 815.6 L845.0 813.4 L846.8 802.1 L848.9 801.4 L851.5 801.2 L852.8 788.2 L854.6 780.4" fill="none" stroke="#D35400" stroke-width="2.8" stroke-linejoin="round" stroke-linecap="butt"/>
<path d="M942.9 999.4 L945.7 996.2 L948.1 998.7 L950.7 999.5 L955.4 1000.2 L961.5 998.9 L968.5 997.8 L979.7 996.8 L991.9 995.9 L1003.2 994.2 L1013.6 993.3 L1024.0 994.5 L1031.4 993.5 L1038.8 994.5 L1042.2 994.8 L1046.6 995.2 L1051.8 993.3 L1057.0 993.0 L1062.2 992.9 L1067.4 993.5 L1073.1 993.9 L1077.8 989.8 L1081.5 990.7 L1085.9 990.9 L1090.7 988.7 L1095.4 989.6 L1099.8 989.3 L1104.1 990.4 L1108.5 989.6 L1112.4 988.7 L1118.9 989.8 L1122.3 988.7 L1126.2 987.8 L1129.7 986.4 L1134.5 987.6 L1140.6 988.7 L1143.6 987.8 L1148.0 983.9 L1151.4 983.9 L1155.3 981.8 L1158.8 981.1 L1162.3 981.3 L1164.5 982.2 L1167.5 978.0 L1171.4 977.0 L1174.4 973.9 L1177.5 972.6 L1180.9 971.8 L1184.0 972.5 L1187.9 974.8 L1190.9 971.3 L1195.3 968.3 L1197.4 969.2 L1199.6 972.2 L1201.3 972.6 L1203.1 971.3 L1205.2 970.9 L1207.0 973.9 L1210.0 972.6 L1213.1 971.3 L1216.5 964.8 L1220.2 968.7 L1222.8 968.7 L1228.1 965.7 L1232.4 970.0 L1234.1 970.0 L1235.9 965.9 L1238.0 965.7 L1239.8 970.0 L1242.0 973.9 L1245.4 969.2 L1247.6 967.9 L1249.8 970.9 L1252.8 970.9 L1255.8 971.6 L1257.6 968.3 L1261.5 964.4 L1263.7 964.0 L1265.4 960.5 L1269.3 965.7 L1272.8 960.9 L1275.8 958.8 L1278.0 962.2 L1279.7 966.6 L1281.4 966.7 L1284.5 957.0 L1286.8 954.2 L1289.1 957.0 L1294.0 947.0 L1296.9 944.7 L1298.8 947.9 L1301.0 951.8" fill="none" stroke="#27AE60" stroke-width="2.8" stroke-linejoin="round" stroke-linecap="butt"/>
<path d="M387.0 1284.9 L390.5 1283.5 L394.4 1277.2 L398.8 1281.4 L401.2 1281.2 L405.4 1278.1 L409.2 1281.9 L412.4 1282.2 L413.9 1278.6 L416.2 1278.1 L417.9 1282.1 L420.0 1285.9 L423.5 1281.2 L425.9 1280.3 L428.0 1283.1 L431.1 1283.3 L433.9 1283.6 L435.3 1280.3 L438.8 1277.2 L441.5 1276.4 L443.5 1273.1 L447.4 1277.1 L450.6 1273.4 L453.7 1270.4 L455.8 1273.1 L457.4 1278.8 L459.6 1279.0 L463.1 1269.7" fill="none" stroke="#27AE60" stroke-width="2.8" stroke-linejoin="round" stroke-linecap="butt"/>
<path d="M1162.1 1299.7 L1165.4 1298.8 L1169.6 1295.3 L1172.0 1296.6 L1174.7 1294.9 L1178.0 1292.2 L1179.7 1287.2 L1181.7 1285.6 L1184.1 1287.2 L1187.4 1291.1 L1189.6 1291.6 L1193.4 1288.9 L1197.3 1288.7 L1199.5 1290.5 L1202.8 1290.0 L1205.5 1288.9 L1207.2 1289.4 L1208.8 1288.0 L1211.6 1288.7 L1214.3 1288.3 L1216.5 1284.7 L1218.7 1285.6 L1221.5 1287.2 L1224.8 1285.6 L1228.3 1281.7 L1230.8 1283.9 L1232.5 1286.5 L1234.7 1286.1 L1238.0 1282.1 L1240.2 1290.0 L1242.1 1293.3 L1244.0 1290.9 L1246.8 1290.0 L1250.1 1291.1 L1253.4 1288.9 L1255.8 1290.5 L1258.3 1287.8 L1261.1 1286.1 L1263.3 1285.4 L1265.2 1281.7 L1269.3 1284.5 L1275.3 1275.1 L1277.5 1279.0 L1279.5 1282.8 L1281.4 1283.4 L1284.7 1272.4 L1286.9 1271.5 L1289.1 1273.7 L1291.3 1267.4 L1292.9 1266.0 L1298.4 1265.6 L1300.9 1268.9 L1306.7 1268.0 L1316.4 1251.5 L1320.2 1259.0 L1322.1 1258.6 L1324.3 1260.8" fill="none" stroke="#27AE60" stroke-width="2.8" stroke-linejoin="round" stroke-linecap="butt"/>
<path d="M1162.1 1299.1 L1165.4 1298.2 L1169.6 1294.7 L1172.0 1296.0 L1174.7 1294.3 L1178.0 1291.6 L1179.7 1286.6 L1181.7 1285.0 L1184.1 1286.6 L1187.4 1290.5 L1189.6 1291.0 L1193.4 1288.3 L1197.3 1288.1 L1199.5 1289.9 L1202.8 1289.4 L1205.5 1288.3 L1207.2 1288.8 L1208.8 1287.4 L1211.6 1288.1 L1214.3 1287.7 L1216.5 1284.1 L1218.7 1285.0 L1221.5 1286.6 L1224.8 1285.0 L1228.3 1281.1 L1230.8 1283.3 L1232.5 1285.9 L1234.7 1285.5 L1238.0 1281.5 L1240.2 1289.4 L1242.1 1292.7 L1244.0 1290.3 L1246.8 1289.4 L1250.1 1290.5 L1253.4 1288.3 L1255.8 1289.9 L1258.3 1287.2 L1261.1 1285.5 L1263.3 1284.8 L1265.2 1281.1 L1269.3 1283.9 L1275.3 1274.5 L1277.5 1278.4 L1279.5 1282.2 L1281.4 1282.8 L1284.7 1271.8 L1286.9 1270.9 L1289.1 1273.1 L1291.3 1266.8 L1292.9 1265.4 L1298.4 1265.0 L1300.9 1268.3 L1306.7 1267.4 L1316.4 1250.9 L1320.2 1258.4 L1322.1 1258.0 L1324.3 1260.2" fill="none" stroke="#D35400" stroke-width="2.8" stroke-linejoin="round" stroke-linecap="butt"/>
<path d="M505.0 1576.7 L506.7 1577.5 L508.5 1576.2 L511.9 1568.4 L517.2 1565.8 L521.5 1562.3 L523.7 1563.6 L525.8 1556.6 L528.9 1555.7 L530.4 1555.3 L532.2 1543.1 L533.9 1529.2 L536.1 1519.6 L537.8 1511.8 L539.3 1507.5 L541.5 1509.6 L542.6 1519.6 L543.9 1527.9 L545.6 1532.6 L547.6 1535.6 L549.5 1544.8 L551.2 1564.7 L553.4 1565.6 L555.2 1570.4 L557.3 1564.8 L559.5 1564.4 L561.2 1566.2 L563.0 1561.4 L564.7 1564.1 L566.9 1559.8 L569.0 1564.2 L572.5 1559.4 L574.7 1561.2 L579.0 1559.6 L580.8 1553.1 L582.5 1550.1 L586.0 1553.2 L588.6 1554.9 L592.0 1555.4 L595.5 1553.3 L599.4 1548.2 L601.6 1541.3 L603.8 1530.9 L605.9 1529.2 L608.1 1534.0 L609.8 1535.3 L612.0 1533.6 L613.8 1533.7 L617.2 1526.8 L619.7 1519.9 L621.6 1522.5 L623.7 1523.0 L626.3 1521.4 L628.1 1515.3 L629.8 1514.3 L632.0 1517.2 L633.9 1525.1 L635.9 1522.9 L639.4 1510.9 L642.0 1509.2 L643.7 1510.1 L645.4 1513.7 L648.0 1511.6 L649.3 1504.7 L651.1 1503.4 L653.2 1510.4 L655.4 1510.9 L657.2 1501.4 L659.3 1497.6 L661.5 1496.1 L662.2 1496.7 L665.6 1498.6 L668.7 1493.5 L673.0 1487.9 L675.6 1491.0 L678.2 1495.0 L680.8 1493.8 L683.0 1494.7 L686.9 1499.2 L689.5 1507.5 L691.7 1518.0 L694.5 1535.8 L696.5 1524.1 L698.0 1513.8 L699.9 1513.1 L701.7 1508.5 L703.8 1508.0 L705.6 1515.7 L707.7 1522.7 L709.9 1517.4 L714.0 1519.0 L716.0 1526.4 L718.0 1534.2 L719.9 1532.5 L721.8 1522.1 L724.1 1521.7 L725.5 1513.5 L727.7 1508.7 L729.4 1516.1 L731.6 1522.7 L733.6 1520.1 L735.5 1512.7 L737.3 1517.1 L739.4 1511.9 L741.6 1509.3 L745.5 1510.7 L747.2 1507.2 L749.8 1510.7 L751.1 1517.3 L753.3 1513.8 L756.8 1504.3 L759.0 1500.9 L760.9 1494.4 L763.7 1497.5 L765.7 1500.1 L767.2 1504.5 L769.5 1495.0 L770.0 1495.5 L772.1 1481.6 L774.5 1477.2 L776.6 1477.9 L779.0 1478.0 L780.1 1463.1 L782.6 1457.9 L784.2 1469.4 L786.3 1492.4 L788.8 1492.5 L790.5 1482.8 L792.1 1472.8 L794.0 1472.3 L796.0 1469.1 L797.9 1478.1 L799.9 1479.2 L803.7 1473.4 L807.5 1476.9 L809.9 1476.0 L812.0 1476.7 L813.9 1481.9 L815.5 1493.8 L817.9 1517.4 L819.7 1515.1 L821.0 1493.9 L823.6 1489.8 L825.6 1491.9 L827.3 1500.3 L829.4 1504.5 L831.5 1501.4 L833.5 1493.5 L836.7 1481.8 L839.1 1474.9 L841.0 1478.7 L843.3 1475.7 L845.0 1471.5 L846.7 1465.3 L848.8 1466.4 L851.2 1464.4 L852.3 1448.8 L854.4 1439.1" fill="none" stroke="#27AE60" stroke-width="2.8" stroke-linejoin="round" stroke-linecap="butt"/>
<path d="M386.9 1598.5 L389.1 1598.0 L391.3 1599.3 L394.3 1595.7 L397.4 1597.2 L400.4 1597.8 L403.0 1596.3 L406.5 1592.8 L409.9 1596.7 L412.1 1596.9 L416.0 1592.8 L417.8 1598.3 L419.9 1603.2 L422.5 1601.2 L427.3 1601.1 L431.2 1599.8 L433.8 1600.4 L435.6 1598.0 L440.8 1595.9 L443.4 1592.2 L447.5 1595.4 L450.1 1590.2 L453.4 1585.9 L455.5 1589.4 L457.3 1593.3 L459.4 1593.7 L461.6 1586.3 L463.2 1581.5 L465.5 1580.4 L467.2 1582.4 L469.0 1576.8 L470.7 1574.6 L473.3 1574.6 L476.4 1574.2 L479.0 1578.1 L505.0 1575.5 L506.7 1576.3 L508.5 1575.0 L511.9 1567.2 L517.2 1564.6 L521.5 1561.1 L523.7 1562.4 L525.8 1555.5 L528.9 1554.6 L530.4 1554.2 L532.2 1542.0 L533.9 1528.1 L536.1 1518.6 L537.8 1510.8 L539.3 1506.4 L541.5 1508.6 L542.6 1518.6 L543.9 1526.8 L545.6 1531.6 L547.6 1534.6 L549.5 1543.8 L551.2 1563.7 L553.4 1564.6 L555.2 1569.4 L557.3 1563.7 L559.5 1563.3 L561.2 1565.0 L563.0 1560.2 L564.7 1562.8 L566.9 1558.5 L569.0 1562.8 L572.5 1558.1 L574.7 1559.8 L579.0 1558.1 L580.8 1551.6 L582.5 1548.5 L586.0 1551.6 L588.6 1553.3 L592.0 1553.7 L595.5 1551.6 L599.4 1546.4 L601.6 1539.4 L603.8 1529.0 L605.9 1527.3 L608.1 1532.0 L609.8 1533.3 L612.0 1531.6 L613.8 1531.6 L617.2 1524.7 L619.7 1517.7 L621.6 1520.3 L623.7 1520.7 L626.3 1519.0 L628.1 1512.9 L629.8 1511.8 L632.0 1514.7 L633.9 1522.5 L635.9 1520.3 L639.4 1508.2 L642.0 1506.4 L643.7 1507.3 L645.4 1510.8 L648.0 1508.6 L649.3 1501.6 L651.1 1500.3 L653.2 1507.3 L655.4 1507.7 L657.2 1498.2 L659.3 1494.3 L661.5 1492.7 L662.2 1493.4 L665.6 1495.1 L668.7 1489.9 L673.0 1484.2 L675.6 1487.3 L678.2 1491.2 L680.8 1489.9 L683.0 1490.7 L686.9 1495.1 L689.5 1503.3 L691.7 1513.8 L694.5 1531.5 L696.5 1519.8 L698.0 1509.4 L699.9 1508.7 L701.7 1504.0 L703.8 1503.5 L705.6 1511.1 L707.7 1518.1 L709.9 1512.7 L714.0 1514.2 L716.0 1521.6 L718.0 1529.4 L719.9 1527.6 L721.8 1517.2 L724.1 1516.8 L725.5 1508.5 L727.7 1503.8 L729.4 1511.1 L731.6 1517.7 L733.6 1515.1 L735.5 1507.7 L737.3 1512.0 L739.4 1506.8 L741.6 1504.2 L745.5 1505.5 L747.2 1502.0 L749.8 1505.5 L751.1 1512.0 L753.3 1508.5 L756.8 1499.0 L759.0 1495.5 L760.9 1489.0 L763.7 1492.0 L765.7 1494.7 L767.2 1499.0 L769.5 1489.4 L770.0 1489.9 L772.1 1476.0 L774.5 1471.5 L776.6 1472.2 L779.0 1472.2 L780.1 1457.2 L782.6 1452.0 L784.2 1463.5 L786.3 1486.4 L788.8 1486.4 L790.5 1476.7 L792.1 1466.6 L794.0 1466.1 L796.0 1462.8 L797.9 1471.8 L799.9 1472.8 L803.7 1466.9 L807.5 1470.4 L809.9 1469.4 L812.0 1470.1 L813.9 1475.3 L815.5 1487.1 L817.9 1510.7 L819.7 1508.3 L821.0 1487.1 L823.6 1482.9 L825.6 1485.0 L827.3 1493.3 L829.4 1497.5 L831.5 1494.4 L833.5 1486.4 L836.7 1474.6 L839.1 1467.6 L841.0 1471.5 L843.3 1468.3 L845.0 1464.2 L846.7 1457.9 L848.8 1459.0 L851.2 1456.9 L852.3 1441.2 L854.4 1431.5" fill="none" stroke="#D35400" stroke-width="2.8" stroke-linejoin="round" stroke-linecap="butt"/>
<path d="M1444.3 1521.6 L1447.4 1521.3 L1449.5 1514.4 L1451.5 1513.6 L1453.9 1517.1 L1455.9 1524.1 L1457.8 1522.5 L1461.2 1509.5 L1463.9 1508.7 L1465.8 1509.7 L1467.5 1513.2 L1470.1 1511.1 L1471.5 1503.8 L1473.2 1502.5 L1475.0 1509.5 L1477.3 1510.0 L1479.0 1500.5 L1482.1 1495.8 L1484.3 1495.4 L1487.3 1498.1 L1489.5 1496.5 L1492.5 1491.3 L1494.9 1487.1 L1497.3 1488.9 L1500.7 1494.2 L1503.6 1493.0 L1506.0 1495.6 L1508.6 1498.7 L1511.6 1507.5 L1513.8 1518.0 L1516.4 1536.2 L1518.1 1526.7 L1519.8 1512.5 L1522.0 1512.3 L1523.8 1507.8 L1525.9 1507.4 L1527.7 1514.8 L1529.8 1523.1 L1532.3 1516.7 L1536.1 1518.4 L1538.1 1525.9 L1540.1 1534.2 L1542.4 1532.1 L1543.9 1521.2 L1545.9 1520.8 L1547.6 1512.6 L1549.8 1507.9 L1551.5 1515.3 L1553.7 1522.7 L1555.9 1519.7 L1557.4 1511.9 L1559.3 1516.2 L1561.2 1511.0 L1563.2 1508.9 L1567.2 1510.3 L1569.3 1506.8 L1571.9 1509.9 L1573.2 1517.3 L1575.4 1513.4 L1578.9 1503.5 L1581.0 1500.2 L1582.9 1493.7 L1585.7 1496.8 L1587.7 1499.4 L1589.2 1503.8 L1591.5 1494.3 L1592.0 1494.8 L1594.1 1480.9 L1596.5 1476.5 L1598.6 1477.2 L1601.0 1477.3 L1602.1 1462.4 L1604.6 1457.2 L1606.2 1468.7 L1608.3 1491.7 L1610.8 1491.8 L1612.5 1482.1 L1614.1 1472.1 L1616.0 1471.6 L1618.0 1468.4 L1619.9 1477.4 L1621.9 1478.5 L1625.7 1472.7 L1629.5 1476.2 L1631.9 1475.3 L1634.0 1476.0 L1635.9 1481.2 L1637.5 1493.1 L1639.9 1516.7 L1641.7 1514.4 L1643.0 1493.2 L1645.6 1489.1 L1647.6 1491.2 L1649.3 1499.6 L1651.4 1503.8 L1653.5 1500.7 L1655.5 1492.8" fill="none" stroke="#27AE60" stroke-width="2.8" stroke-linejoin="round" stroke-linecap="butt"/>
<path d="M1444.3 1519.4 L1447.4 1519.0 L1449.5 1512.0 L1451.5 1511.1 L1453.9 1514.6 L1455.9 1521.6 L1457.8 1519.8 L1461.2 1506.8 L1463.9 1505.9 L1465.8 1506.8 L1467.5 1510.3 L1470.1 1508.1 L1471.5 1500.7 L1473.2 1499.4 L1475.0 1506.4 L1477.3 1506.8 L1479.0 1497.3 L1482.1 1492.5 L1484.3 1492.0 L1487.3 1494.7 L1489.5 1492.9 L1492.5 1487.7 L1494.9 1483.4 L1497.3 1485.1 L1500.7 1490.3 L1503.6 1489.0 L1506.0 1491.6 L1508.6 1494.7 L1511.6 1503.3 L1513.8 1513.8 L1516.4 1532.0 L1518.1 1522.4 L1519.8 1508.1 L1522.0 1507.8 L1523.8 1503.3 L1525.9 1502.9 L1527.7 1510.3 L1529.8 1518.5 L1532.3 1512.0 L1536.1 1513.6 L1538.1 1521.1 L1540.1 1529.4 L1542.4 1527.2 L1543.9 1516.4 L1545.9 1515.9 L1547.6 1507.7 L1549.8 1502.9 L1551.5 1510.3 L1553.7 1517.7 L1555.9 1514.6 L1557.4 1506.8 L1559.3 1511.1 L1561.2 1505.9 L1563.2 1503.8 L1567.2 1505.1 L1569.3 1501.6 L1571.9 1504.6 L1573.2 1512.0 L1575.4 1508.1 L1578.9 1498.1 L1581.0 1494.8 L1582.9 1488.3 L1585.7 1491.3 L1587.7 1494.0 L1589.2 1498.3 L1591.5 1488.7 L1592.0 1489.2 L1594.1 1475.3 L1596.5 1470.8 L1598.6 1471.5 L1601.0 1471.5 L1602.1 1456.5 L1604.6 1451.3 L1606.2 1462.8 L1608.3 1485.7 L1610.8 1485.7 L1612.5 1476.0 L1614.1 1465.9 L1616.0 1465.4 L1618.0 1462.1 L1619.9 1471.1 L1621.9 1472.1 L1625.7 1466.2 L1629.5 1469.7 L1631.9 1468.7 L1634.0 1469.4 L1635.9 1474.6 L1637.5 1486.4 L1639.9 1510.0 L1641.7 1507.6 L1643.0 1486.4 L1645.6 1482.2 L1647.6 1484.3 L1649.3 1492.6 L1651.4 1496.8 L1653.5 1493.7 L1655.5 1485.7 L1658.7 1473.9 L1661.1 1466.9 L1663.0 1470.8 L1665.3 1467.6 L1667.0 1463.5 L1668.7 1457.2 L1670.8 1458.3 L1673.2 1456.2 L1674.3 1440.5 L1676.4 1430.8" fill="none" stroke="#D35400" stroke-width="2.8" stroke-linejoin="round" stroke-linecap="butt"/>
</g>
</svg>
</body></html>
